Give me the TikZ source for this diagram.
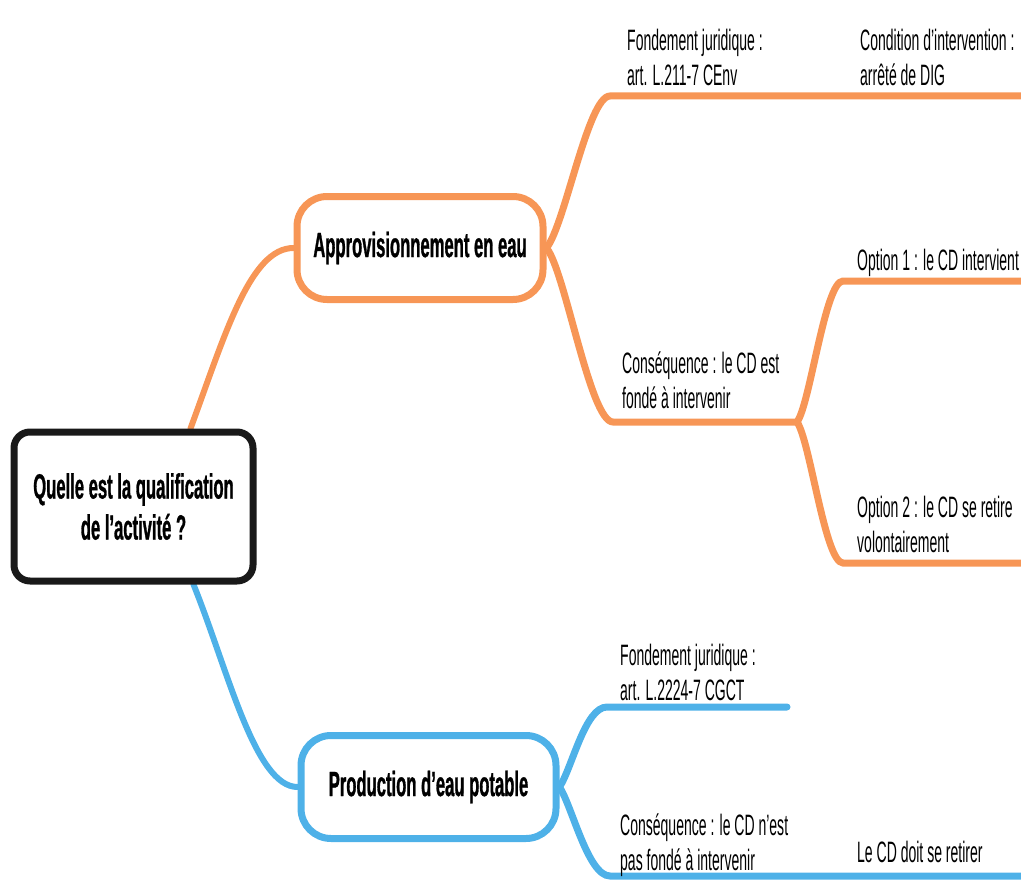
\documentclass[tikz,border=0pt]{standalone}
\usepackage{fontspec}
\newfontfamily\condfont[FakeStretch=0.475]{Liberation Sans}
\newfontfamily\condboldfont[FakeStretch=0.475,FakeBold=0.8]{Liberation Sans}
\definecolor{orangeC}{RGB}{247,150,86}
\definecolor{blueC}{RGB}{78,177,232}
\definecolor{rootC}{RGB}{25,25,25}
\begin{document}
\begin{tikzpicture}[x=1pt,y=-1pt,
  conn/.style={line width=7pt, line cap=round},
  oline/.style={conn, draw=orangeC},
  bline/.style={conn, draw=blueC},
  boldtxt/.style={font=\condboldfont\bfseries\fontsize{35}{41}\selectfont},
  rootbox/.style={draw=rootC, line width=7pt, rounded corners=16pt, fill=white,
    minimum width=239pt, minimum height=149pt, align=center, boldtxt},
  mainbox/.style={line width=7pt, rounded corners=30pt, fill=white,
    minimum height=103pt, align=center, boldtxt},
  leaf/.style={inner sep=0pt, anchor=base west, align=left,
    font=\condfont\fontsize{29.5}{35}\selectfont}
]
\useasboundingbox (0,0) rectangle (1021,883);
\clip (0,0) rectangle (1021,883);

% line anchors
\coordinate (fjO) at (610,96);   \coordinate (fjOe) at (1040,96);
\coordinate (csO) at (613,422);  \coordinate (brO) at (797,422);
\coordinate (op1) at (843,281);  \coordinate (op1e) at (1040,281);
\coordinate (op2) at (843,563);  \coordinate (op2e) at (1040,563);
\coordinate (fjB) at (607,707);  \coordinate (fjBe) at (787,707);
\coordinate (csB) at (610,876);  \coordinate (csBe) at (1040,876);

% boxes (named, for anchors)
\path (133.5,506.5) node[rootbox, draw=none, fill=none, text opacity=0] (root) {Quelle est la qualification\\de l’activité ?};
\path (420,248) node[mainbox, minimum width=246pt, draw=none, fill=none, text opacity=0] (approv) {Approvisionnement en eau};
\path (428.5,787) node[mainbox, minimum width=255pt, draw=none, fill=none, text opacity=0] (prod) {Production d’eau potable};

% connectors
\draw[oline, line width=6pt] ([xshift=57pt]root.north) .. controls (225,335) and (250,248) .. (approv.west);
\draw[bline, line width=6pt] ([xshift=60pt]root.south) .. controls (228,670) and (255,787) .. (prod.west);
\draw[oline] (approv.east) .. controls (565,225) and (588,96) .. (fjO) -- (fjOe);
\draw[oline] (approv.east) .. controls (565,270) and (590,422) .. (csO) -- (brO);
\draw[oline] (brO) .. controls (810,405) and (825,281) .. (op1) -- (op1e);
\draw[oline] (brO) .. controls (810,440) and (825,563) .. (op2) -- (op2e);
\draw[bline] (prod.east) .. controls (572,768) and (585,707) .. (fjB) -- (fjBe);
\draw[bline] (prod.east) .. controls (572,806) and (588,876) .. (csB) -- (csBe);

% visible boxes on top of the connectors
\node[rootbox] (rootv) at (root) {Quelle est la qualification\\de l’activité ?};
\node[mainbox, draw=orangeC, minimum width=246pt] (approvv) at (approv) {Approvisionnement en eau};
\node[mainbox, draw=blueC, minimum width=255pt] (prodv) at (prod) {Production d’eau potable};

% texts (base = baseline of last line)
\node[leaf] (t1) at (627,85) {Fondement juridique :\\art. L.211-7 CEnv};
\node[leaf] (t2) at (860,85) {Condition d’intervention :\\arrêté de DIG};
\node[leaf] (t3) at (622,408) {Conséquence : le CD est\\fondé à intervenir};
\node[leaf] (t4) at (857,270) {Option 1 : le CD intervient};
\node[leaf] (t5) at (857,552) {Option 2 : le CD se retire\\volontairement};
\node[leaf] (t6) at (620,700) {Fondement juridique :\\art. L.2224-7 CGCT};
\node[leaf] (t7) at (620,870) {Conséquence : le CD n’est\\pas fondé à intervenir};
\node[leaf] (t8) at (857,862) {Le CD doit se retirer};
\end{tikzpicture}
\end{document}
